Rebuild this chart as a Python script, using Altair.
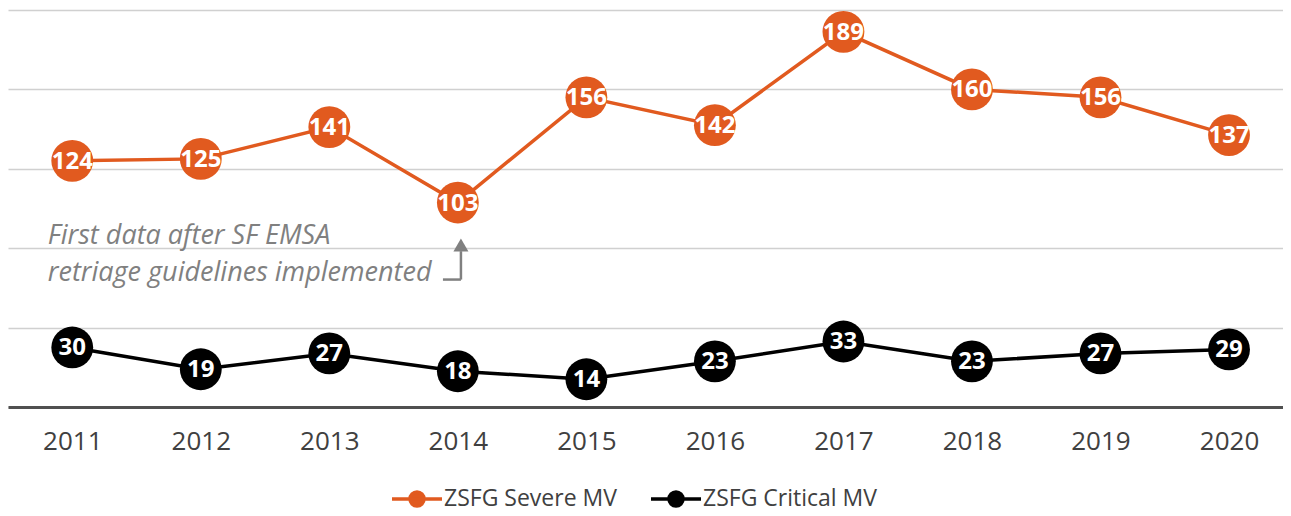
import altair as alt
import pandas as pd

years = [2011, 2012, 2013, 2014, 2015, 2016, 2017, 2018, 2019, 2020]
severe = [124, 125, 141, 103, 156, 142, 189, 160, 156, 137]
critical = [30, 19, 27, 18, 14, 23, 33, 23, 27, 29]
series_names = ["ZSFG Severe MV", "ZSFG Critical MV"]
series_colors = ["#E15A1F", "#000000"]
grid_values = [0, 40, 80, 120, 160, 200]

note_lines = ["First data after SF EMSA", "retriage guidelines implemented"]
note_x = [2010.81, 2010.81]
note_y = [81.9, 63.7]

# arrow pieces (data space)
arrow_h = pd.DataFrame({"x": [2013.884], "x2": [2014.024], "y": [64.2]})
arrow_v = pd.DataFrame({"x": [2014.024], "y": [64.2], "y2": [78.5]})
arrow_head = pd.DataFrame({"x": [2014.024], "y": [81.6]})

rows = []
for y, s, c in zip(years, severe, critical):
    rows.append({"year": y, "value": s, "series": series_names[0]})
    rows.append({"year": y, "value": c, "series": series_names[1]})
df = pd.DataFrame(rows)
notes = pd.DataFrame({"x": note_x, "y": note_y, "t": note_lines})

x_scale = alt.Scale(domain=[2010.5, 2020.42], nice=False, zero=False)
y_scale = alt.Scale(domain=[0, 200], nice=False)
color_scale = alt.Scale(domain=series_names, range=series_colors)

legend = alt.Legend(
    title=None, orient="none", direction="horizontal", legendX=382, legendY=462,
    symbolType="M-1,0L1,0M-0.28,0A0.28,0.28,0,1,1,0.28,0A0.28,0.28,0,1,1,-0.28,0Z",
    symbolSize=2500, symbolStrokeWidth=3.5,
    labelFont="Open Sans", labelFontSize=23, labelColor="#404040",
    labelOffset=0, columnPadding=27, labelLimit=400,
)

base = alt.Chart(df).encode(
    x=alt.X("year:Q", scale=x_scale,
            axis=alt.Axis(values=years, format="d", title=None, grid=False, ticks=False,
                          labelFont="Open Sans", labelFontSize=26, labelColor="#404040",
                          labelPadding=21, domainColor="#505050", domainWidth=3,
                          labelFlush=False)),
    y=alt.Y("value:Q", scale=y_scale,
            axis=alt.Axis(values=grid_values, title=None, labels=False, ticks=False,
                          domain=False, grid=True, gridColor="#D0D0D0", gridWidth=1.5)),
)

lines = base.mark_line(strokeWidth=3.5).encode(
    color=alt.Color("series:N", scale=color_scale, legend=legend),
    detail="series:N",
)
points = base.mark_point(filled=True, size=1750, opacity=1).encode(
    color=alt.Color("series:N", scale=color_scale, legend=legend),
)
labels = base.mark_text(font="Open Sans", fontWeight="bold", fontSize=24,
                        color="white", baseline="middle", dy=1).encode(
    text=alt.Text("value:Q"),
)

note_text = alt.Chart(notes).mark_text(
    font="Open Sans", fontStyle="italic", fontSize=27, color="#808080",
    align="left", baseline="alphabetic",
).encode(x=alt.X("x:Q", scale=x_scale), y=alt.Y("y:Q", scale=y_scale), text="t:N")

arr1 = alt.Chart(arrow_h).mark_rule(color="#808080", strokeWidth=2.5).encode(
    x=alt.X("x:Q", scale=x_scale), x2="x2:Q", y=alt.Y("y:Q", scale=y_scale))
arr2 = alt.Chart(arrow_v).mark_rule(color="#808080", strokeWidth=2.5).encode(
    x=alt.X("x:Q", scale=x_scale), y=alt.Y("y:Q", scale=y_scale), y2="y2:Q")
arr3 = alt.Chart(arrow_head).mark_point(shape="triangle-up", filled=True, size=225,
                                        color="#808080", opacity=1).encode(
    x=alt.X("x:Q", scale=x_scale), y=alt.Y("y:Q", scale=y_scale))

chart = alt.layer(lines, points, labels, note_text, arr1, arr2, arr3).properties(
    width=1275, height=397,
    padding={"left": 0, "top": 2, "right": 0, "bottom": 0},
).configure_view(stroke=None)

chart.save("out.html", embed_options={"renderer": "svg", "actions": False})
